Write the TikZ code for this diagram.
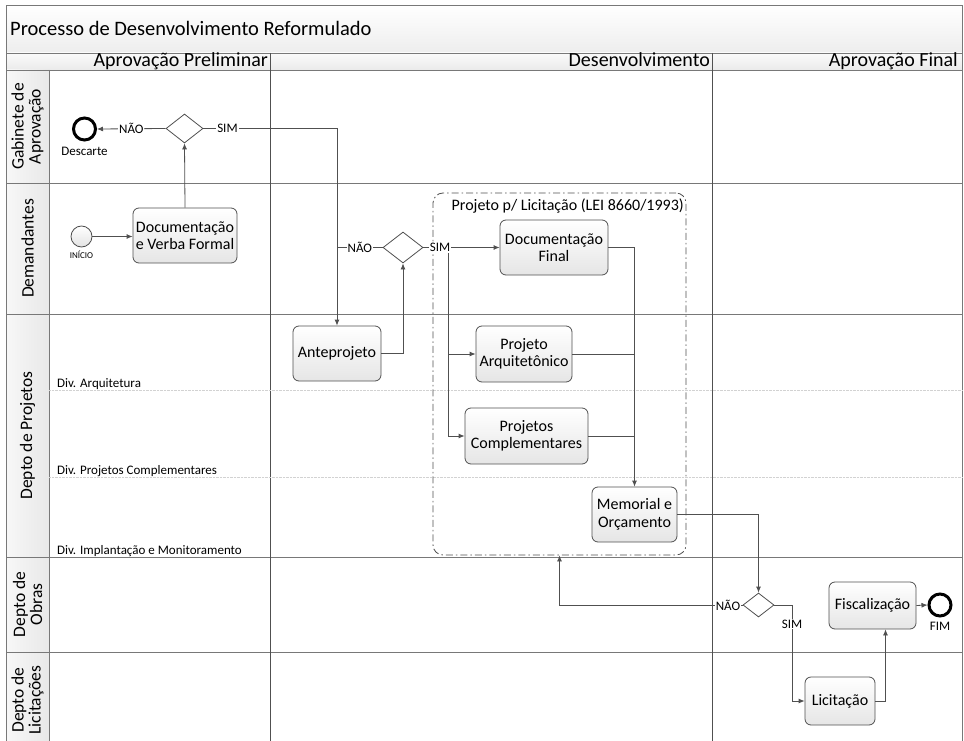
\documentclass[tikz,border=0pt]{standalone}
\usepackage{fontspec}
\setmainfont{Carlito}
\usepackage{tikz}
\usetikzlibrary{shapes.geometric,arrows.meta,positioning}
\definecolor{flowgray}{RGB}{80,80,80}
\definecolor{lanegray}{RGB}{120,120,120}
\newcommand{\pxfont}[2]{\fontsize{#1}{#2}\selectfont}

\begin{document}
\begin{tikzpicture}[x=1pt, y=-1pt,
    task/.style={rectangle, draw=flowgray, line width=0.8pt, rounded corners=6pt, top color=white, bottom color=gray!20, align=center, inner sep=0pt, font=\pxfont{16}{17.5}},
    gate/.style={diamond, draw=flowgray, line width=0.8pt, fill=white, inner sep=0pt},
    startev/.style={circle, draw=flowgray, line width=0.8pt, top color=white, bottom color=gray!22, minimum size=21pt, inner sep=0pt},
    endev/.style={circle, draw=black, line width=3pt, fill=white, minimum size=22pt, inner sep=0pt},
    flow/.style={draw=flowgray, line width=0.8pt, -{Latex[length=6pt,width=5pt]}},
    link/.style={draw=flowgray, line width=0.8pt},
    lbl/.style={fill=white, inner sep=1pt, font=\pxfont{13}{14}},
    evlbl/.style={font=\pxfont{13}{14}, inner sep=1pt},
    lanelbl/.style={rotate=90, align=center, font=\pxfont{17.5}{17}},
    hdr/.style={font=\pxfont{20}{20}, inner sep=0pt, anchor=base east},
    divlbl/.style={font=\pxfont{13}{14}, inner sep=0pt, anchor=base west},
    pool/.style={draw=lanegray, line width=0.8pt},
    subline/.style={draw=gray!35, densely dotted}
]
\useasboundingbox (0,0) rectangle (964,741);
\clip (0,0) rectangle (964,741);

% pool and lanes
\fill[top color=white, bottom color=gray!14] (6,5) rectangle (962,53);
\fill[top color=gray!4, bottom color=gray!16] (6,53) rectangle (962,70);
\fill[left color=gray!6, right color=gray!18] (6,70) rectangle (49,745);
\draw[pool] (6,745) -- (6,5) -- (962,5) -- (962,745);
\foreach \y in {53,70,183,314,557,652} \draw[pool] (6,\y) -- (962,\y);
\draw[pool] (49,70) -- (49,745);
\foreach \x in {270,712} \draw[link] (\x,53) -- (\x,745);
\foreach \y in {390,477} \draw[subline] (49,\y) -- (962,\y);

\node[font=\pxfont{20.5}{22}, anchor=base west, inner sep=0pt] (titulo) at (10,36) {Processo de Desenvolvimento Reformulado};
\node[hdr] (hdrpre) at (268,67) {Aprovação Preliminar};
\node[hdr] (hdrdes) at (710,67) {Desenvolvimento};
\node[hdr] (hdrfin) at (958,67) {Aprovação Final};

\node[lanelbl] (lanegab) at (27.5,126.5) {Gabinete de\\Aprovação};
\node[lanelbl] (lanedem) at (27.5,248.5) {Demandantes};
\node[lanelbl] (laneproj) at (27.5,435.5) {Depto de Projetos};
\node[lanelbl] (laneobras) at (27.5,604.5) {Depto de\\Obras};
\node[lanelbl] (lanelic) at (27.5,700) {Depto de\\Licitações};

\node[divlbl] (divarq) at (57,387) {Div. Arquitetura};
\node[divlbl] (divcomp) at (57,474) {Div. Projetos Complementares};
\node[divlbl] (divimp) at (57,554) {Div. Implantação e Monitoramento};

% Aprovacao preliminar
\node[endev] (descarte) at (84.5,129) {};
\node[evlbl, below=4pt of descarte] (descartelbl) {Descarte};
\node[gate, minimum width=37pt, minimum height=29pt] (decgab) at (184.5,128.5) {};
\node[startev] (inicio) at (81.5,236.5) {};
\node[evlbl, font=\pxfont{9}{10}, below=2pt of inicio] (iniciolbl) {INÍCIO};
\node[task, minimum width=104pt, minimum height=55pt] (docverba) at (185,235.5) {Documentação\\e Verba Formal};

% Desenvolvimento
\node[gate, minimum width=40pt, minimum height=31pt] (decdem) at (403,247.5) {};
\node[task, minimum width=88pt, minimum height=55pt] (antep) at (337,353.5) {Anteprojeto};
\node[draw=flowgray, line width=0.8pt, dash pattern=on 7pt off 3pt on 1.5pt off 3pt, rounded corners=10pt, minimum width=253pt, minimum height=362pt, inner sep=0pt] (pacote) at (559.5,374) {};
\node[font=\pxfont{16}{17}, inner sep=0pt, anchor=base east] (pacotelbl) at (684,211) {Projeto p/ Licitação (LEI 8660/1993)};
\node[task, minimum width=108pt, minimum height=55pt] (docfinal) at (554,247.5) {Documentação\\Final};
\node[task, minimum width=96pt, minimum height=56pt] (projarq) at (524,354) {Projeto\\Arquitetônico};
\node[task, minimum width=123pt, minimum height=56pt] (projcomp) at (526.5,436) {Projetos\\Complementares};
\node[task, minimum width=85pt, minimum height=55pt] (memorial) at (634.5,514.5) {Memorial e\\Orçamento};

% Aprovacao final
\node[gate, minimum width=31pt, minimum height=24pt] (decobras) at (758.5,605) {};
\node[task, minimum width=87pt, minimum height=47pt] (fiscal) at (872.5,605.5) {Fiscalização};
\node[endev] (fim) at (940,605) {};
\node[evlbl, below=3pt of fim] (fimlbl) {FIM};
\node[task, minimum width=70pt, minimum height=48pt] (licitacao) at (840,701) {Licitação};

% connectors
\draw[flow] (inicio.east) -- (inicio.east -| docverba.west);
\draw[flow] (docverba.north) -- (decgab.south);
\draw[flow] (decgab.west) -- node[lbl]{NÃO} (descarte.east);
\draw[flow] (decgab.east) -- node[lbl, pos=0.18]{SIM} (decgab -| antep) -- (antep.north);
\draw[link] (decdem.west) -- node[lbl]{NÃO} (decdem -| antep);
\draw[flow] (antep.east) -| (decdem.south);
\coordinate (ramo) at (448,247.5);
\draw[flow] (ramo) |- (projarq.west);
\draw[flow] (ramo) |- (projcomp.west);
\draw[flow] (decdem.east) -- node[lbl, pos=0.22]{SIM} (docfinal.west);
\draw[flow] (docfinal.east) -| (memorial.north);
\draw[link] (projarq.east) -- (projarq -| memorial);
\draw[link] (projcomp.east) -- (projcomp -| memorial);
\draw[flow] (memorial.east) -| (decobras.north);
\draw[flow] (decobras.west) -- node[lbl, pos=0.08]{NÃO} (decobras -| pacote.south) -- (pacote.south);
\coordinate (simobras) at (792,605);
\draw[flow] (decobras.east) -- (simobras) |- node[lbl, pos=0.1]{SIM} (licitacao.west);
\draw[flow] (licitacao.east) -| ([xshift=13pt]fiscal.south);
\draw[flow] (fiscal.east) -- (fim.west);

\end{tikzpicture}
\end{document}
